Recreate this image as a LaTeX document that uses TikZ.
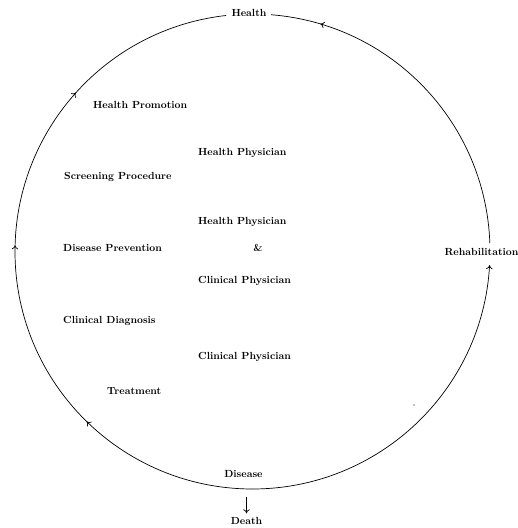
\documentclass[tikz,border=0pt]{standalone}
\usetikzlibrary{arrows.meta,decorations.markings}
\begin{document}
\begin{tikzpicture}[x=1pt,y=1pt,
  lbl/.style={inner sep=0pt, font=\fontsize{10.3}{12}\selectfont\bfseries, text height=7pt, text depth=2pt},
  lft/.style={lbl, anchor=west},
  ring/.style={line width=0.7pt},
  tipA/.style={-{To[length=4pt,width=6.5pt]}},
  midarrows/.style={postaction={decorate}, decoration={markings, #1}}
]
\useasboundingbox (0,0) rectangle (518,528);
\def\R{237.5}
\coordinate (ctr) at (252.5,276.5);

% labels on the ring
\node[lbl] (health) at (249,514) {Health};
\node[lbl] (rehab) at (481.5,275) {Rehabilitation};
\node[lbl] (disease) at (243.5,53) {Disease};
\node[lbl] (death) at (246.5,6) {Death};

% inner labels
\node[lft] (promo) at (93,422) {Health Promotion};
\node[lft] (hp1) at (198,375) {Health Physician};
\node[lft] (screen) at (64,351) {Screening Procedure};
\node[lft] (hp2) at (198,306) {Health Physician};
\node[lft] (prev) at (63,279) {Disease Prevention};
\node[lbl] (amp) at (258,279) {\&};
\node[lft] (cp1) at (198,247) {Clinical Physician};
\node[lft] (diag) at (63,207) {Clinical Diagnosis};
\node[lft] (cp2) at (198,171) {Clinical Physician};
\node[lft] (treat) at (107,136) {Treatment};

% ring: right lower part, Disease -> Rehabilitation
\draw[ring, tipA] (ctr) ++(270:\R) coordinate (bottom)
  arc[start angle=270, end angle=356.7, radius=\R];
% ring: right upper part, Rehabilitation -> Health
\draw[ring, midarrows={mark=at position 0.855 with {\arrow{To[length=4pt,width=6.5pt]}}}]
  (ctr) ++(2.05:\R) arc[start angle=2.05, end angle=85.5, radius=\R];
% ring: left part, Disease -> Health
\draw[ring, midarrows={mark=at position 0.255 with {\arrow{To[length=4pt,width=6.5pt]}},
                       mark=at position 0.527 with {\arrow{To[length=4pt,width=6.5pt]}},
                       mark=at position 0.760 with {\arrow{To[length=4pt,width=6.5pt]}}}]
  (ctr) ++(270:\R) arc[start angle=270, end angle=96.4, radius=\R];

% Disease -> Death
\draw[ring, tipA, shorten <=8pt, shorten >=4pt] (death.north |- bottom) -- (death.north);

% stray dot
\fill (414,123) circle (0.7pt);
\end{tikzpicture}
\end{document}
